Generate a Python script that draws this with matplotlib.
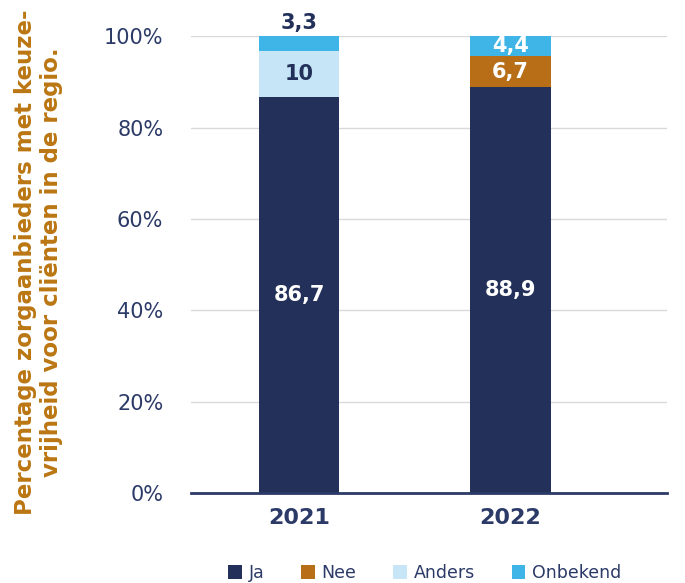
import matplotlib
matplotlib.use("Agg")
import matplotlib.pyplot as plt
import numpy as np

# data
jaren = ["2021", "2022"]
ja = [86.7, 88.9]
nee = [0, 6.7]
anders = [10, 0]
onbekend = [3.3, 4.4]

reeksen = ["Ja", "Nee", "Anders", "Onbekend"]
kleuren = ["#22305A", "#B86E17", "#C6E6F8", "#3FB4E6"]
tekstkleur = ["white", "white", "#22305A", "white"]

navy = "#2B3A67"
plt.rcParams["font.family"] = ["DejaVu Sans"]

fig = plt.figure(figsize=(6.85, 5.83), dpi=100)
ax = fig.add_axes([0.279, 0.154, 0.695, 0.784])

x = np.arange(len(jaren))
breedte = 0.38
onder = np.zeros(len(jaren))
for naam, waarden, kleur, tk in zip(reeksen, [ja, nee, anders, onbekend], kleuren, tekstkleur):
    waarden = np.array(waarden, dtype=float)
    ax.bar(x, waarden, breedte, bottom=onder, color=kleur, label=naam, zorder=3)
    for i, w in enumerate(waarden):
        if w <= 0:
            continue
        tekst = ("%g" % w).replace(".", ",")
        if naam == "Onbekend" and i == 0:
            # kleine waarde boven de staaf
            ax.text(x[i], onder[i] + w + 0.6, tekst, ha="center", va="bottom",
                    color="#22305A", fontsize=15, fontweight="bold")
        else:
            ax.text(x[i], onder[i] + w / 2, tekst, ha="center", va="center",
                    color=tk, fontsize=15, fontweight="bold")
    onder += waarden

ax.set_xlim(-0.51, 1.74)
ax.set_ylim(0, 100)
ax.set_yticks(np.arange(0, 101, 20))
ax.set_yticklabels([f"{v}%" for v in range(0, 101, 20)])
ax.set_xticks(x)
ax.set_xticklabels(jaren, fontsize=16, fontweight="bold", color=navy)
ax.tick_params(axis="y", labelsize=15, labelcolor=navy, length=0, pad=20)
ax.tick_params(axis="x", length=0, pad=11)
ax.grid(axis="y", color="#D9D9D9", linewidth=1, zorder=0)
for s in ["top", "right", "left"]:
    ax.spines[s].set_visible(False)
ax.spines["bottom"].set_color(navy)
ax.spines["bottom"].set_linewidth(2)
ax.spines["bottom"].set_zorder(4)

fig.text(0.056, 0.55, "Percentage zorgaanbieders met keuze-\nvrijheid voor cliënten in de regio.",
         rotation=90, ha="center", va="center", color="#BA7612",
         fontsize=16.5, fontweight="bold", linespacing=1.2)

fig.legend(loc="lower center", bbox_to_anchor=(0.62, -0.025), ncol=4, frameon=False,
           fontsize=12.5, handlelength=0.8, handleheight=0.8, handletextpad=0.4,
           columnspacing=2.1, labelcolor=navy)

fig.savefig("out.png", dpi=100)
